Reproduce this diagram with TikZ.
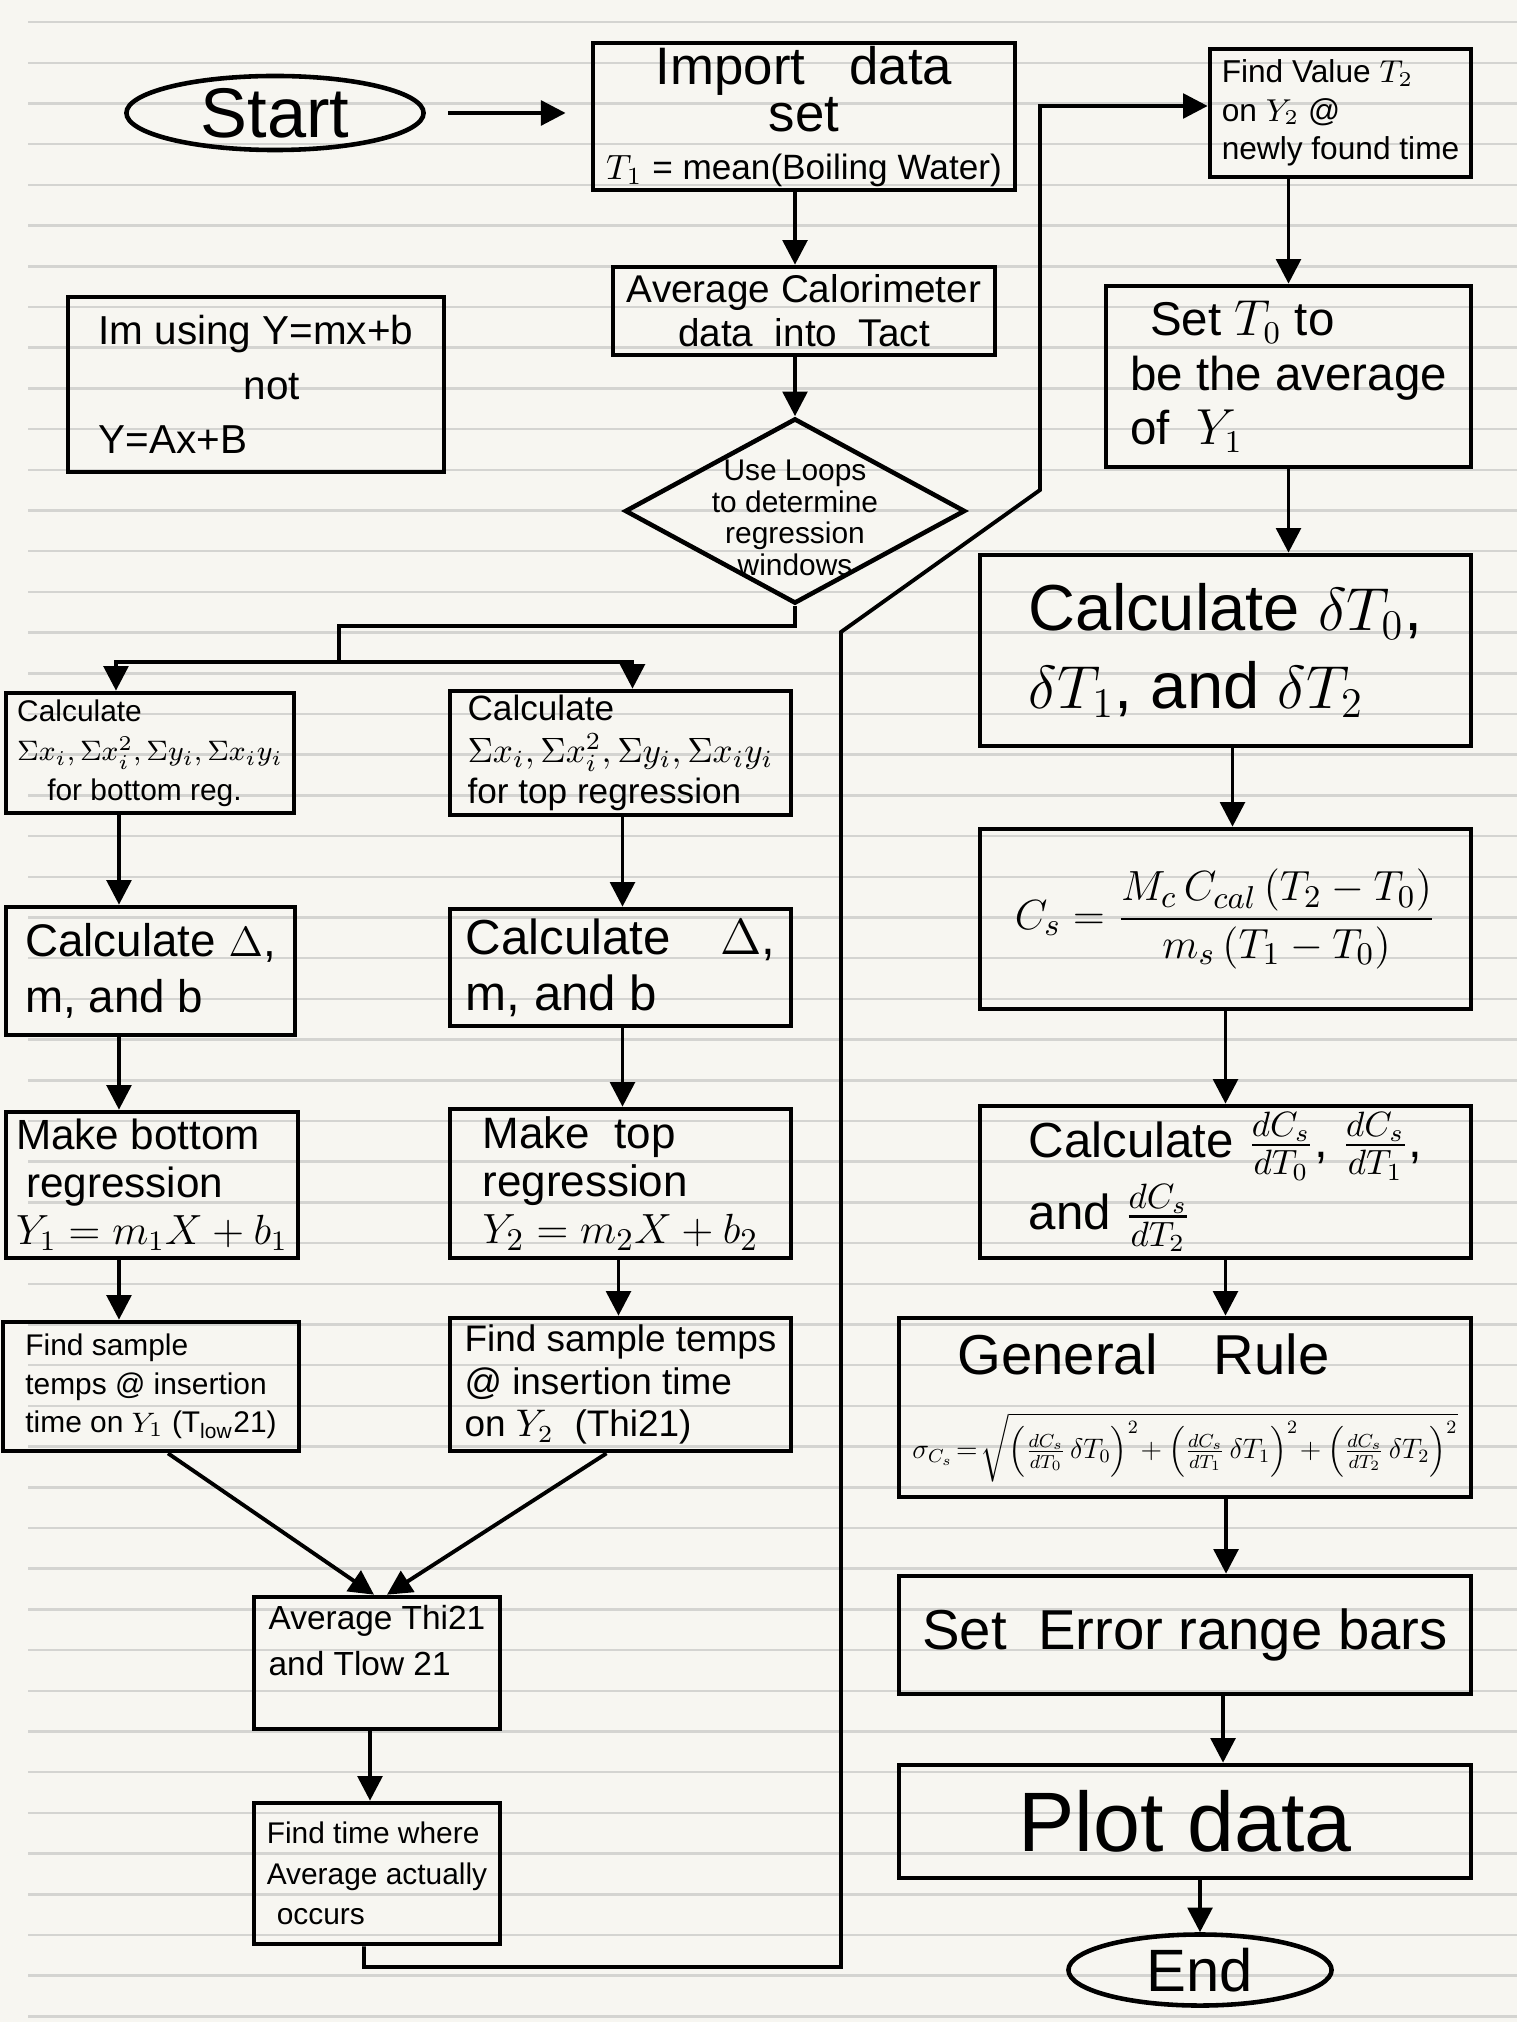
\documentclass[tikz,border=0pt]{standalone}
\usepackage{amsmath}
\usepackage{graphicx}
\usepackage{fontspec}
\setmainfont{Liberation Sans}
\usetikzlibrary{shapes.geometric,arrows.meta}
\newcommand\fsz[2]{\fontsize{#1}{#2}\selectfont}
\definecolor{paper}{HTML}{F7F6F1}
\definecolor{ruling}{HTML}{D4D4D1}
\begin{document}
\begin{tikzpicture}[x=0.01cm,y=-0.01cm,
  box/.style={draw, rectangle, line width=1.3pt, inner xsep=0.08cm, inner ysep=0pt, align=left},
  shapeline/.style={draw, line width=1.3pt, inner sep=0pt},
  arr/.style={line width=1.1pt, -{Triangle[length=7pt,width=7pt]}},
  ln/.style={line width=1.1pt}]
\useasboundingbox (0,0) rectangle (1517,2022);
\fill[paper] (0,0) rectangle (1517,2022);
\foreach \k in {-7,...,42} \draw[ruling, line width=0.7pt] (28,{307+\k*40.7}) -- (1517,{307+\k*40.7});

% top
\node[shapeline, ellipse, minimum width=2.97cm, minimum height=0.74cm] (start) at (275,113) {};
\node[font=\fsz{20}{22}] (starttext) at (start) {Start};
\node[box, align=center, minimum width=4.22cm, minimum height=1.47cm, font=\fsz{10}{13.5}] (import) at (804,116.5)
  {{\fsz{15}{13.5}Import\ \ \ data}\\ {\fsz{15}{13.5}set}\\ $T_1$ = mean(Boiling Water)};
\node[box, align=center, minimum width=3.82cm, minimum height=0.88cm, font=\fsz{11}{12.5}] (avgcal) at (804,311)
  {Average Calorimeter\\ data\ \ into\ \ Tact};
\node[shapeline, diamond, minimum width=3.4cm, minimum height=1.85cm] (loop) at (795,511) {};
\node[align=center, font=\fsz{8.5}{9}] (looptext) at (795,518) {Use Loops\\ to determine\\ regression\\ windows};
\node[box, minimum width=3.76cm, minimum height=1.75cm, font=\fsz{11.5}{15.5}] (note) at (256,384.5)
  {Im using Y=mx+b\\ \hspace*{1.45cm}not\\ Y=Ax+B};

% left column
\node[box, minimum width=2.88cm, minimum height=1.20cm, font=\fsz{8.5}{11.2}] (L1) at (150,753)
  {Calculate\\ $\Sigma x_i,\Sigma x_i^2,\Sigma y_i,\Sigma x_iy_i$\\ \hspace*{0.3cm}for bottom reg.};
\node[box, minimum width=2.89cm, minimum height=1.28cm, font=\fsz{13}{16}] (L2) at (150.5,971)
  {Calculate $\Delta$,\\ m, and b};
\node[box, minimum width=2.92cm, minimum height=1.46cm, font=\fsz{12}{13.5}] (L3) at (152,1185)
  {Make bottom\\ \hspace*{0.1cm}regression\\ $Y_1 = m_1X + b_1$};
\node[box, minimum width=2.96cm, minimum height=1.29cm, font=\fsz{8.5}{11}] (L4) at (151,1386.5)
  {Find sample\\ temps @ insertion\\ time on $Y_1$ (T\textsubscript{low}21)};

% middle column
\node[box, minimum width=3.41cm, minimum height=1.24cm, font=\fsz{10}{11.8}] (M1) at (620.5,753)
  {Calculate\\ $\Sigma x_i,\Sigma x_i^2,\Sigma y_i,\Sigma x_iy_i$\\ for top regression};
\node[box, minimum width=3.41cm, minimum height=1.17cm, font=\fsz{14}{16}] (M2) at (620.5,967.5)
  {Calculate\quad $\Delta$,\\ m, and b};
\node[box, minimum width=3.41cm, minimum height=1.49cm, font=\fsz{12.5}{13.5}] (M3) at (620.5,1183.5)
  {Make\ \ top\\ regression\\ $Y_2 = m_2X + b_2$};
\node[box, minimum width=3.41cm, minimum height=1.33cm, font=\fsz{10.5}{12}] (M4) at (620.5,1384.5)
  {Find sample temps\\ @ insertion time\\ on $Y_2$\ \ (Thi21)};

% bottom left
\node[box, minimum width=2.46cm, minimum height=1.32cm, font=\fsz{9.5}{13}] (B1) at (377,1663)
  {Average Thi21\\ and Tlow 21\\ \mbox{}};
\node[box, minimum width=2.46cm, minimum height=1.41cm, font=\fsz{8.5}{11.5}] (B2) at (377,1873.5)
  {Find time where\\ Average actually\\ \hspace*{0.1cm}occurs};

% right column
\node[box, minimum width=2.61cm, minimum height=1.28cm, font=\fsz{9}{11}] (R1) at (1340.5,113)
  {Find Value $T_2$\\ on $Y_2$ @\\ newly found time};
\node[box, minimum width=3.65cm, minimum height=1.81cm, font=\fsz{13.5}{15.5}] (R2) at (1288.5,376.5)
  {\hspace*{0.2cm}Set $T_0$ to\\ be the average\\ of\ \ $Y_1$};
\node[box, minimum width=4.91cm, minimum height=1.91cm, font=\fsz{18.5}{22}] (R3) at (1225.5,650.5)
  {Calculate $\delta T_0$,\\ $\delta T_1$, and $\delta T_2$};
\node[box, align=center, minimum width=4.91cm, minimum height=1.80cm, font=\fsz{13}{18}] (R4) at (1225.5,919)
  {$C_s = \dfrac{M_c\, C_{cal}\,(T_2 - T_0)}{m_s\,(T_1 - T_0)}$};
\node[box, minimum width=4.91cm, minimum height=1.52cm, font=\fsz{14}{19}] (R5) at (1225.5,1182)
  {Calculate $\frac{dC_s}{dT_0}$, $\frac{dC_s}{dT_1}$,\\ and $\frac{dC_s}{dT_2}$};
\node[box, minimum width=5.72cm, minimum height=1.79cm, font=\fsz{12}{24}] (R6) at (1185,1407.5)
  {\hspace*{0.45cm}{\fsz{16}{24}General\quad Rule}\\
   \resizebox{5.45cm}{!}{$\sigma_{C_s}\!=\!\sqrt{\Bigl(\frac{dC_s}{dT_0}\,\delta T_0\Bigr)^{2}\!+\Bigl(\frac{dC_s}{dT_1}\,\delta T_1\Bigr)^{2}\!+\Bigl(\frac{dC_s}{dT_2}\,\delta T_2\Bigr)^{2}}$}};
\node[box, align=center, minimum width=5.72cm, minimum height=1.18cm, font=\fsz{16}{18}] (R7) at (1185,1635)
  {Set\ \ Error range bars};
\node[box, align=center, minimum width=5.72cm, minimum height=1.13cm, font=\fsz{24}{26}] (R8) at (1185,1821.5)
  {Plot data};
\node[shapeline, ellipse, minimum width=2.63cm, minimum height=0.71cm] (end) at (1200,1970) {};
\node[font=\fsz{17}{19}] (endtext) at (end) {End};

% connectors
\draw[arr, shorten <=0.22cm, shorten >=0.25cm] (start.east) -- (import.west |- start.east);
\draw[arr] (loop.north |- import.south) -- (loop.north |- avgcal.north);
\draw[arr] (loop.north |- avgcal.south) -- (loop.north);
\coordinate (j1) at (339,626);
\coordinate (j2) at (339,662);
\draw[ln] (loop.south) |- (j1) -- (j2);
\draw[arr] (j2) -| ([xshift=-0.34cm]L1.north);
\draw[arr] (j2) -| ([xshift=0.12cm]M1.north);

\draw[arr] ([xshift=-0.31cm]L1.south) -- ([xshift=-0.31cm]L1.south |- L2.north);
\draw[arr] ([xshift=-0.31cm]L1.south |- L2.south) -- ([xshift=-0.31cm]L1.south |- L3.north);
\draw[arr] ([xshift=-0.31cm]L1.south |- L3.south) -- ([xshift=-0.31cm]L1.south |- L4.north);

\draw[arr] ([xshift=0.02cm]M1.south) -- ([xshift=0.02cm]M2.north);
\draw[arr] ([xshift=0.02cm]M2.south) -- ([xshift=0.02cm]M3.north);
\draw[arr] ([xshift=-0.02cm]M3.south) -- ([xshift=-0.02cm]M4.north);

\draw[arr] ([xshift=0.17cm]L4.south) -- ([xshift=-0.03cm]B1.north);
\draw[arr] ([xshift=-0.14cm]M4.south) -- ([xshift=0.1cm]B1.north);
\draw[arr] ([xshift=-0.07cm]B1.south) -- ([xshift=-0.07cm]B2.north);

\coordinate (c1) at (841,1967);
\coordinate (c2) at (841,632);
\coordinate (c3) at (1040,490);
\coordinate (c4) at (1040,106);
\draw[arr] ([xshift=-0.13cm]B2.south) |- (c1) -- (c2) -- (c3) -- (c4) -- (R1.west |- c4);

\draw[arr] (R2.north |- R1.south) -- (R2.north);
\draw[arr] (R2.south) -- (R2.south |- R3.north);
\draw[arr] ([xshift=0.07cm]R3.south) -- ([xshift=0.07cm]R4.north);
\draw[arr] (R4.south) -- (R5.north);
\draw[arr] (R5.south) -- (R5.south |- R6.north);
\draw[arr] ([xshift=0.41cm]R6.south) -- ([xshift=0.41cm]R7.north);
\draw[arr] ([xshift=0.38cm]R7.south) -- ([xshift=0.38cm]R8.north);
\draw[arr] (end.north |- R8.south) -- (end.north);
\end{tikzpicture}
\end{document}
